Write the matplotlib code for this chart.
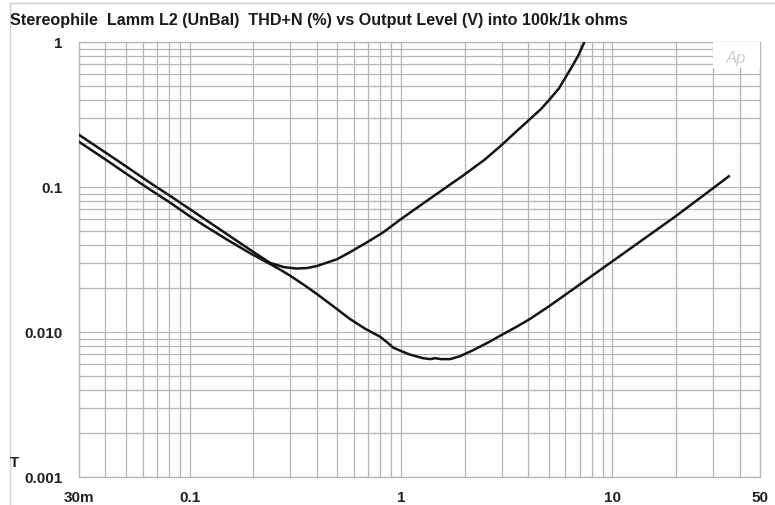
import matplotlib
matplotlib.use("Agg")
import matplotlib.pyplot as plt
from matplotlib.ticker import LogLocator, NullFormatter, FixedLocator
from matplotlib.lines import Line2D
from matplotlib.patches import Rectangle

plt.rcParams['font.family'] = ['Liberation Sans', 'DejaVu Sans']

# Output level (V) and THD+N (%) into 1k ohms (clips near 7.5 V)
volts_1k = [0.03, 0.04, 0.05, 0.065, 0.081, 0.1, 0.118, 0.15, 0.193, 0.24,
            0.28, 0.32, 0.36, 0.40, 0.50, 0.574, 0.70, 0.825, 1.0, 1.23,
            1.5, 1.97, 2.5, 3.0, 3.5, 4.08, 4.6, 5.07, 5.6, 6.08, 6.5,
            6.9, 7.34, 7.5]
thd_1k = [0.229, 0.173, 0.139, 0.107, 0.0868, 0.0706, 0.060, 0.0474, 0.037, 0.030,
          0.0280, 0.0274, 0.0276, 0.0285, 0.0318, 0.0355, 0.0420, 0.0487, 0.060, 0.0743,
          0.091, 0.120, 0.155, 0.195, 0.240, 0.294, 0.345, 0.404, 0.48, 0.586, 0.69,
          0.805, 0.98, 1.08]

# Output level (V) and THD+N (%) into 100k ohms
volts_100k = [0.03, 0.04, 0.05, 0.065, 0.081, 0.1, 0.118, 0.15, 0.193, 0.232,
              0.27, 0.30, 0.35, 0.40, 0.48, 0.574, 0.68, 0.795, 0.86, 0.92,
              1.0, 1.1, 1.27, 1.38, 1.45, 1.55, 1.71, 1.9, 2.2, 2.6,
              2.94, 3.5, 4.08, 5.07, 7.0, 10.1, 14.0, 20.0, 28.0, 35.6]
thd_100k = [0.205, 0.155, 0.124, 0.096, 0.078, 0.063, 0.054, 0.0435, 0.035, 0.0303,
            0.0268, 0.0244, 0.021, 0.0183, 0.0150, 0.0123, 0.0105, 0.0093, 0.0085, 0.0078,
            0.0074, 0.0070, 0.0066, 0.0065, 0.0066, 0.0065, 0.0065, 0.0068, 0.0075, 0.0085,
            0.0094, 0.0108, 0.0123, 0.0152, 0.0212, 0.031, 0.0435, 0.063, 0.091, 0.1185]

x_ticks = [0.03, 0.1, 1, 10, 50]
x_tick_labels = ["30m", "0.1", "1", "10", "50"]
y_ticks = [0.001, 0.01, 0.1, 1]
y_tick_labels = ["0.001", "0.010", "0.1", "1"]

title = "Stereophile  Lamm L2 (UnBal)  THD+N (%) vs Output Level (V) into 100k/1k ohms"

W, H = 775, 506
fig = plt.figure(figsize=(W / 100, H / 100), dpi=100)
ax = fig.add_axes([79 / W, 1 - 478 / H, (760 - 79) / W, (478 - 43) / H])

grid_col = "#b4b4b4"
ax.set_xscale("log")
ax.set_yscale("log")
ax.set_xlim(0.03, 50)
ax.set_ylim(0.001, 1)

ax.xaxis.set_major_locator(FixedLocator(x_ticks))
ax.set_xticklabels(x_tick_labels)
ax.xaxis.set_minor_locator(LogLocator(base=10, subs=range(1, 10), numticks=50))
ax.xaxis.set_minor_formatter(NullFormatter())
ax.yaxis.set_major_locator(FixedLocator(y_ticks))
ax.set_yticklabels(y_tick_labels)
ax.yaxis.set_minor_locator(LogLocator(base=10, subs=range(1, 10), numticks=50))
ax.yaxis.set_minor_formatter(NullFormatter())

ax.grid(True, which="both", color=grid_col, linewidth=0.9)
ax.tick_params(which="both", length=0)
ax.tick_params(axis="x", pad=9.5, labelsize=11)
ax.tick_params(axis="y", pad=12, labelsize=11)
for lab in ax.get_xticklabels() + ax.get_yticklabels():
    lab.set_fontweight("bold")
    lab.set_color("#222222")
for sp in ax.spines.values():
    sp.set_color(grid_col)
    sp.set_linewidth(0.9)

ax.plot(volts_100k, thd_100k, color="#141414", linewidth=1.8, zorder=4)
ax.plot(volts_1k, thd_1k, color="#141414", linewidth=1.8, zorder=4)

# Audio Precision badge in the top-right corner
ax.add_patch(Rectangle((713, 506 - 69), 47, 26, transform=None,
                       facecolor="white", edgecolor="none", zorder=3))
fig.text(736 / W, 1 - 59 / H, "Ap", fontsize=12, style="italic",
         color="#cdcdcd", ha="center", va="center", zorder=5)

fig.text(10 / W, 1 - 21 / H, title, fontsize=11.6, fontweight="bold",
         color="#1a1a1a", ha="left", va="center")
fig.text(14 / W, 1 - 463 / H, "T", fontsize=11, fontweight="bold",
         color="#222222", ha="center", va="center")

# light frame around the sheet
fig.add_artist(Line2D([10 / W, 1], [1 - 4 / H, 1 - 4 / H], color="#d0d0d0", linewidth=1))
fig.add_artist(Line2D([10 / W, 10 / W], [0, 1 - 4 / H], color="#d0d0d0", linewidth=1))

fig.savefig("out.png", dpi=100)
